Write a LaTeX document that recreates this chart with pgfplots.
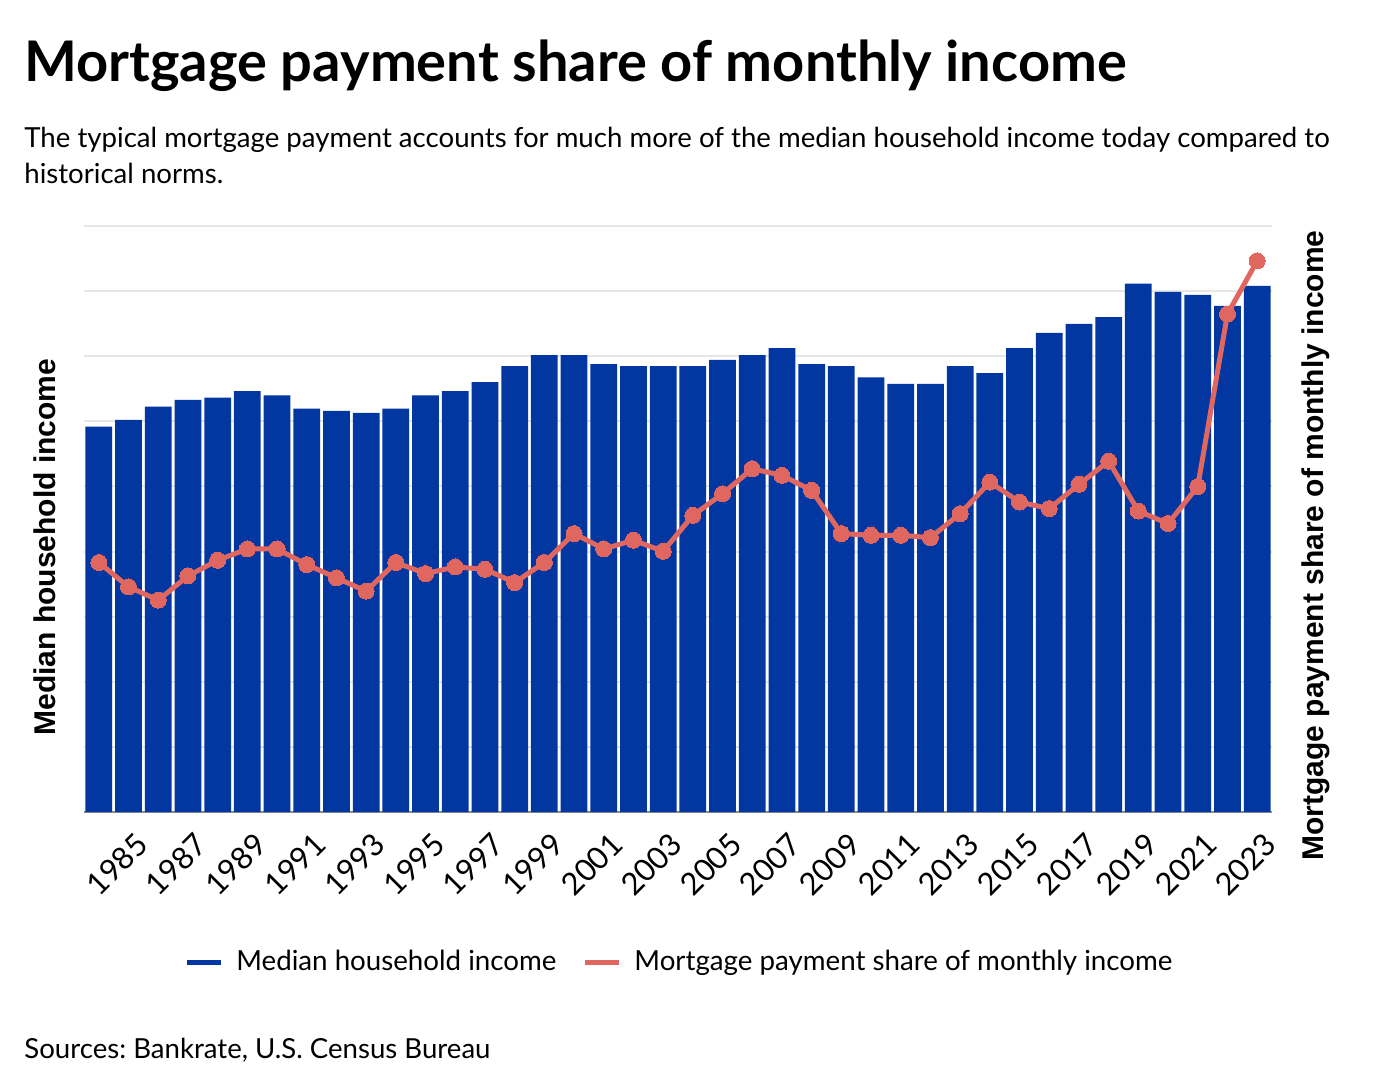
\documentclass[border=0pt]{standalone}
\usepackage{fontspec}
\setmainfont{Lato}
\newfontfamily\labelfont{Liberation Sans}
\usepackage{pgfplots}
\pgfplotsset{compat=1.18}
\usepackage{pgfplotstable}

\definecolor{barblue}{HTML}{0236A0}
\definecolor{linered}{HTML}{E0675F}
\definecolor{gridgray}{HTML}{E6E6E6}
\definecolor{axisgray}{HTML}{8C8C8C}

% year, median household income (2023 dollars), mortgage payment share (%)
\pgfplotstableread{
year income share
1984 59190 19.16
1985 60220 17.29
1986 62260 16.27
1987 63290 18.13
1988 63640 19.33
1989 64660 20.20
1990 63990 20.20
1991 61950 19.00
1992 61600 17.98
1993 61290 16.96
1994 61950 19.16
1995 63990 18.31
1996 64660 18.82
1997 66040 18.64
1998 68500 17.62
1999 70180 19.16
2000 70180 21.38
2001 68800 20.20
2002 68500 20.87
2003 68500 20.02
2004 68500 22.78
2005 69460 24.44
2006 70180 26.36
2007 71250 25.85
2008 68800 24.70
2009 68500 21.38
2010 66750 21.25
2011 65740 21.25
2012 65740 21.07
2013 68500 22.91
2014 67420 25.33
2015 71250 23.80
2016 73600 23.30
2017 74980 25.16
2018 76000 26.94
2019 81150 23.11
2020 79880 22.15
2021 79420 25.00
2022 77740 38.24
2023 80800 42.32
}\data

\begin{document}
\frenchspacing
\begin{tikzpicture}
\useasboundingbox (0,0) rectangle (693pt,-538pt);

\node[anchor=base west, inner sep=0pt, font=\fontsize{28}{32}\selectfont\bfseries]
  at (12pt,-40.5pt) {Mortgage payment share of monthly income};
\node[anchor=base west, inner sep=0pt, font=\fontsize{13.8}{16}\selectfont]
  at (12pt,-73.5pt) {The typical mortgage payment accounts for much more of the median household income today compared to};
\node[anchor=base west, inner sep=0pt, font=\fontsize{13.8}{16}\selectfont]
  at (12pt,-91.5pt) {historical norms.};
\node[anchor=base west, inner sep=0pt, font=\fontsize{13.8}{16}\selectfont]
  at (12pt,-529pt) {Sources: Bankrate, U.S. Census Bureau};

\begin{axis}[
  at={(42pt,-406pt)}, anchor=south west,
  scale only axis, width=594pt, height=293pt,
  xmin=1983.5, xmax=2023.5, ymin=0, ymax=90000,
  ytick={0,10000,...,90000}, yticklabels={}, scaled y ticks=false,
  ymajorgrids, grid style={gridgray, line width=1pt},
  xtick={1985,1987,...,2023},
  /pgf/number format/assume math mode=true,
  /pgf/number format/1000 sep={},
  xticklabel style={rotate=45, anchor=north east, inner sep=0pt,
    xshift=-4.5pt, yshift=-8.5pt, font=\fontsize{15.4}{17}\selectfont},
  major tick length=0pt,
  axis x line*=bottom, x axis line style={-, axisgray, line width=1pt},
  axis y line*=left, y axis line style={draw=none},
  ylabel={Median household income},
  ylabel style={font=\labelfont\bfseries\fontsize{15}{18}\selectfont,
    at={(axis description cs:-0.0328,0.452)}, anchor=center},
]
\addplot[ybar, bar width=0.9, fill=barblue, draw=none] table[x=year, y=income] {\data};
\end{axis}

\begin{axis}[
  at={(42pt,-406pt)}, anchor=south west,
  scale only axis, width=594pt, height=293pt,
  xmin=1983.5, xmax=2023.5, ymin=0, ymax=45,
  xtick=\empty, ytick=\empty,
  axis x line=none,
  axis y line*=right, y axis line style={draw=none},
  ylabel={Mortgage payment share of monthly income},
  ylabel style={font=\labelfont\bfseries\fontsize{15}{18}\selectfont,
    at={(axis description cs:1.037,0.455)}, anchor=center, rotate=0},
  legend style={at={(axis description cs:0.502,-0.256)}, anchor=center,
    draw=none, fill=none, legend columns=2,
    font=\fontsize{13.85}{16}\selectfont,
    /tikz/every odd column/.append style={column sep=4.5pt},
    /tikz/every even column/.append style={column sep=11pt}},
  legend image code/.code={\draw[#1, line width=2.5pt] (0pt,0pt) -- (17pt,0pt);},
]
\addlegendimage{barblue}
\addlegendentry{Median household income}
\addlegendimage{linered}
\addlegendentry{Mortgage payment share of monthly income}
\addplot[linered, line width=2.5pt, mark=*, mark size=4pt,
  mark options={fill=linered, draw=linered, line width=0pt}, forget plot]
  table[x=year, y=share] {\data};
\end{axis}
\end{tikzpicture}
\end{document}
